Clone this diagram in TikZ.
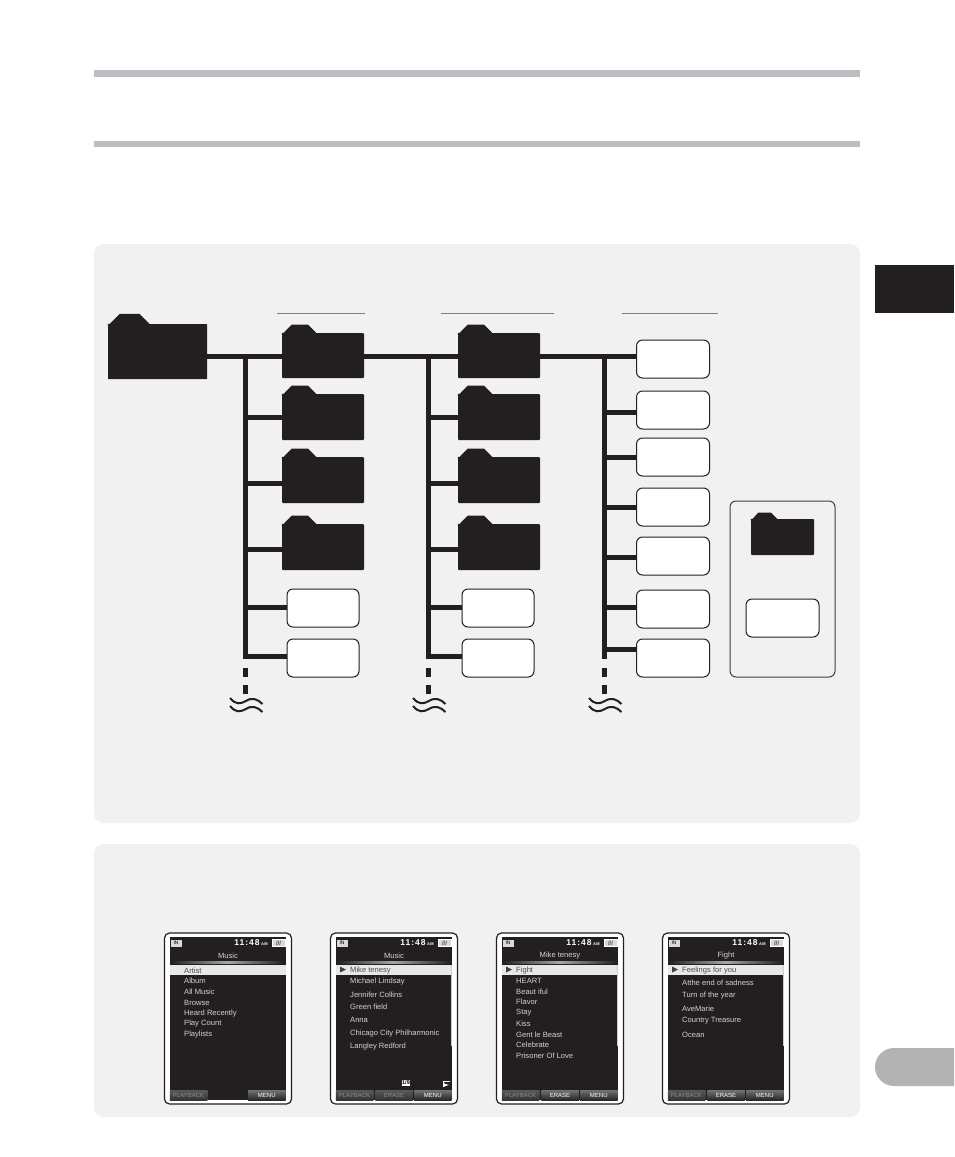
\documentclass[tikz,border=0pt]{standalone}
\usepackage{fontspec}
\setmainfont{Liberation Sans}
\newfontfamily\clockfont[LetterSpace=12]{Liberation Sans}
\definecolor{scrink}{HTML}{231F20}
\definecolor{panelgray}{HTML}{F1F1F1}
\definecolor{rulegray}{HTML}{BCBDC0}
\definecolor{tabgray}{HTML}{B3B3B3}
\definecolor{itemgray}{HTML}{D2D2D2}

% tab on top of a folder node: node name, folder width
\newcommand{\foldertab}[2]{%
  \fill[scrink] (#1.north west) ++(0,2) -- ++({#2*.12},{-#2*.1-2}) -- ++({#2*.2},0) -- ++({#2*.1},{#2*.1}) -- (#1.north west) -- cycle;
}
% player screen: name, left edge, title, highlighted row, other rows
\newcommand{\devscreen}[5]{%
  \begin{scope}[shift={(#2,0)}]
    \node[devframe] (#1) at (64,1018.5) {};
    \node[devpanel] (#1in) at (63.5,1018.5) {};
    \node[inbadge] (#1badge) at (12,943) {IN};
    \node[clock, anchor=east] (#1clock) at (104,943) {\clockfont\bfseries 11:48\,\fontsize{4}{4}\selectfont AM};
    \node[battery] (#1bat) at (114.5,943) {///};
    \node[listitem, anchor=center] (#1title) at (64,956) {#3};
    \shade[left color=scrink, right color=scrink, middle color=white!65!black] (6,961.5) rectangle (121,963);
    \node[rowbar] (#1bar) at (63.5,970) {};
    \node[listitem, text=black!70] (#1first) at (20,970.5) {#4};
    \foreach \y/\t in {#5} {
      \node[listitem] (#1-\y) at (20,\y) {\t};
    }
  \end{scope}
}

\begin{document}
\begin{tikzpicture}[
  x=1pt, y=-1pt,
  bar/.style={draw=scrink, line width=5pt},
  folder/.style={fill=scrink, rounded corners=1pt, inner sep=0pt, minimum width=82pt, minimum height=45pt},
  filebox/.style={draw=scrink, line width=1pt, fill=white, rounded corners=6pt, inner sep=0pt, minimum width=72pt, minimum height=38pt},
  panel/.style={fill=panelgray, rounded corners=10pt, inner sep=0pt, minimum width=766pt},
  topbar/.style={fill=rulegray, inner sep=0pt, minimum width=766pt, minimum height=7pt},
  headline/.style={draw=black!50, line width=0.7pt},
  devframe/.style={draw=scrink, line width=1.2pt, fill=white, rounded corners=5pt, inner sep=0pt, minimum width=127pt, minimum height=171pt},
  devpanel/.style={fill=scrink, inner sep=0pt, minimum width=116pt, minimum height=163pt},
  rowbar/.style={fill=black!9, inner sep=0pt, minimum width=116pt, minimum height=10pt},
  listitem/.style={anchor=west, inner sep=0pt, text=itemgray, font=\fontsize{7.6}{8}\selectfont},
  inbadge/.style={fill=black!15, text=black, inner sep=0pt, minimum width=11pt, minimum height=7pt, font=\fontsize{5}{5}\selectfont},
  clock/.style={inner sep=0pt, text=white, font=\fontsize{8.5}{9}\selectfont},
  battery/.style={draw=white, line width=0.8pt, fill=white!85!black, text=black!70, inner sep=0pt, minimum width=13pt, minimum height=6.5pt, font=\bfseries\fontsize{6}{6}\selectfont},
  softkey/.style={top color=black!55, bottom color=black!85, inner sep=0pt, minimum width=37.5pt, minimum height=10pt, text=white, font=\fontsize{6}{6}\selectfont},
  dimkey/.style={softkey, top color=black!65, bottom color=black!80, text=black!45},
  wave/.style={draw=scrink, line width=2pt}
]
\useasboundingbox[fill=white] (0,0) rectangle (954,1157);

% Page furniture
\node[topbar] (barA) at (477,73.5) {};
\node[topbar, minimum height=6pt] (barB) at (477,144) {};
\fill[scrink] (875,265) rectangle (954,313);
\fill[tabgray] (954,1048) -- (894,1048) arc[start angle=270, end angle=90, radius=19] -- (954,1086) -- cycle;

% Panels
\node[panel, minimum height=579pt] (treepanel) at (477,533.5) {};
\node[panel, minimum height=273pt] (screenpanel) at (477,980.5) {};

% Column headings
\draw[headline] (277,313) -- (365,313);
\draw[headline] (441,313) -- (554,313);
\draw[headline] (622,313) -- (718,313);

% Root folder
\node[folder, minimum width=99pt, minimum height=55pt, rounded corners=0.5pt] (root) at (157.5,351.5) {};
\foldertab{root}{99}

% First and second folder columns
\foreach \c/\x in {a/323, b/499} {
  \node[folder] (\c1) at (\x,355.5) {};
  \node[folder, minimum height=46pt] (\c2) at (\x,417) {};
  \node[folder, minimum height=46pt] (\c3) at (\x,480) {};
  \node[folder, minimum height=46pt] (\c4) at (\x,547) {};
  \foreach \n in {1,2,3,4} {
    \foldertab{\c\n}{82}
  }
}
\node[filebox] (a5) at (323,608) {};
\node[filebox] (a6) at (323,658) {};
\node[filebox] (b5) at (498,608) {};
\node[filebox] (b6) at (498,658) {};

% Track column
\node[filebox, minimum width=73pt] (c1) at (673,359) {};
\node[filebox, minimum width=73pt] (c2) at (673,410) {};
\node[filebox, minimum width=73pt] (c3) at (673,457) {};
\node[filebox, minimum width=73pt] (c4) at (673,507) {};
\node[filebox, minimum width=73pt] (c5) at (673,556) {};
\node[filebox, minimum width=73pt] (c6) at (673,609) {};
\node[filebox, minimum width=73pt] (c7) at (673,658) {};

% Legend
\node[draw=black!75, line width=1pt, rounded corners=6pt, inner sep=0pt, minimum width=105pt, minimum height=176pt] (legend) at (782.5,589) {};
\node[folder, minimum width=63pt, minimum height=36pt] (legfolder) at (782.5,537) {};
\foldertab{legfolder}{63}
\node[filebox, minimum width=73pt] (legfile) at (782.5,618) {};

% Main line
\coordinate (spineA) at (245,356);
\coordinate (spineB) at (428,356);
\coordinate (spineC) at (604,356);
\draw[bar] (root.east |- spineA) -- (a1.west |- spineA);
\draw[bar] (a1.east |- spineA) -- (b1.west |- spineA);
\draw[bar] (b1.east |- spineA) -- (c1.west |- spineA);

% Branches
\foreach \s/\c in {spineA/a, spineB/b} {
  \draw[bar] ([yshift=-2.5pt]\s) -- (\s |- 0,659);
  \foreach \n/\y in {2/417, 3/483, 4/549, 5/607, 6/656} {
    \draw[bar] (\s |- 0,\y) -- (\c\n.west |- 0,\y);
  }
}
\draw[bar] ([yshift=-2.5pt]spineC) -- (spineC |- 0,659);
\foreach \n/\y in {2/412, 3/457, 4/507, 5/557, 6/607, 7/649} {
  \draw[bar] (spineC |- 0,\y) -- (c\n.west |- 0,\y);
}

% Broken ends
\foreach \s in {spineA, spineB, spineC} {
  \coordinate (tail) at (\s |- 0,668);
  \draw[bar, dash pattern=on 9pt off 8pt] (tail) -- (\s |- 0,694);
  \foreach \d in {0,8} {
    \draw[wave] ([xshift=-15pt,yshift={-30pt-\d pt}]tail) .. controls +(6,7) and +(-6,3) .. ++(16,3) .. controls +(6,-4) and +(-5,-5) .. ++(16.5,3);
  }
}

% Player screens
\devscreen{scrA}{164}{Music}{Artist}{981/Album, 992/All Music, 1003/Browse, 1014/Heard Recently, 1024/Play Count, 1035/Playlists}
\devscreen{scrB}{330}{Music}{Mike tenesy}{982/Michael Lindsay, 995/Jennifer Collins, 1007/Green field, 1020/Anna, 1034/Chicago City Philharmonic, 1047/Langley Redford}
\devscreen{scrC}{496}{Mike tenesy}{Fight}{981/HEART, 992/Beaut iful, 1002/Flavor, 1013/Stay, 1024/Kiss, 1035/Gent le Beast, 1045/Celebrate, 1056/Prisoner Of Love}
\devscreen{scrD}{662}{Fight}{Feelings for you}{983/Atthe end of sadness, 996/Turn of the year, 1009/AveMarie, 1021/Country Treasure, 1035/Ocean}

% Soft keys
\foreach \s/\x in {scrA/164, scrB/330, scrC/496, scrD/662} {
  \node[dimkey] (\s play) at (\x+24.5,1095) {PLAYBACK};
  \node[softkey] (\s menu) at (\x+102.75,1095) {MENU};
}
\node[dimkey] (scrBerase) at (394,1095) {ERASE};
\node[softkey] (scrCerase) at (560,1095) {ERASE};
\node[softkey] (scrDerase) at (726,1095) {ERASE};

% Row arrows and scroll bars
\foreach \x in {330, 496, 662} {
  \fill[black!75] (\x+10,966.5) -- (\x+10,972.5) -- (\x+16,969.5) -- cycle;
  \draw[white!80!black, line width=0.8pt] (\x+121,965) -- (\x+121,1046);
}

% Page counter and return mark on the second screen
\node[fill=white, text=black, inner sep=0.5pt, font=\bfseries\fontsize{5.5}{6}\selectfont] (scrBcount) at (406,1083) {1/9};
\draw[white, line width=1pt, -latex] (450,1081) -- (443,1081) -- (443,1085) -- (449,1085);
\end{tikzpicture}
\end{document}
